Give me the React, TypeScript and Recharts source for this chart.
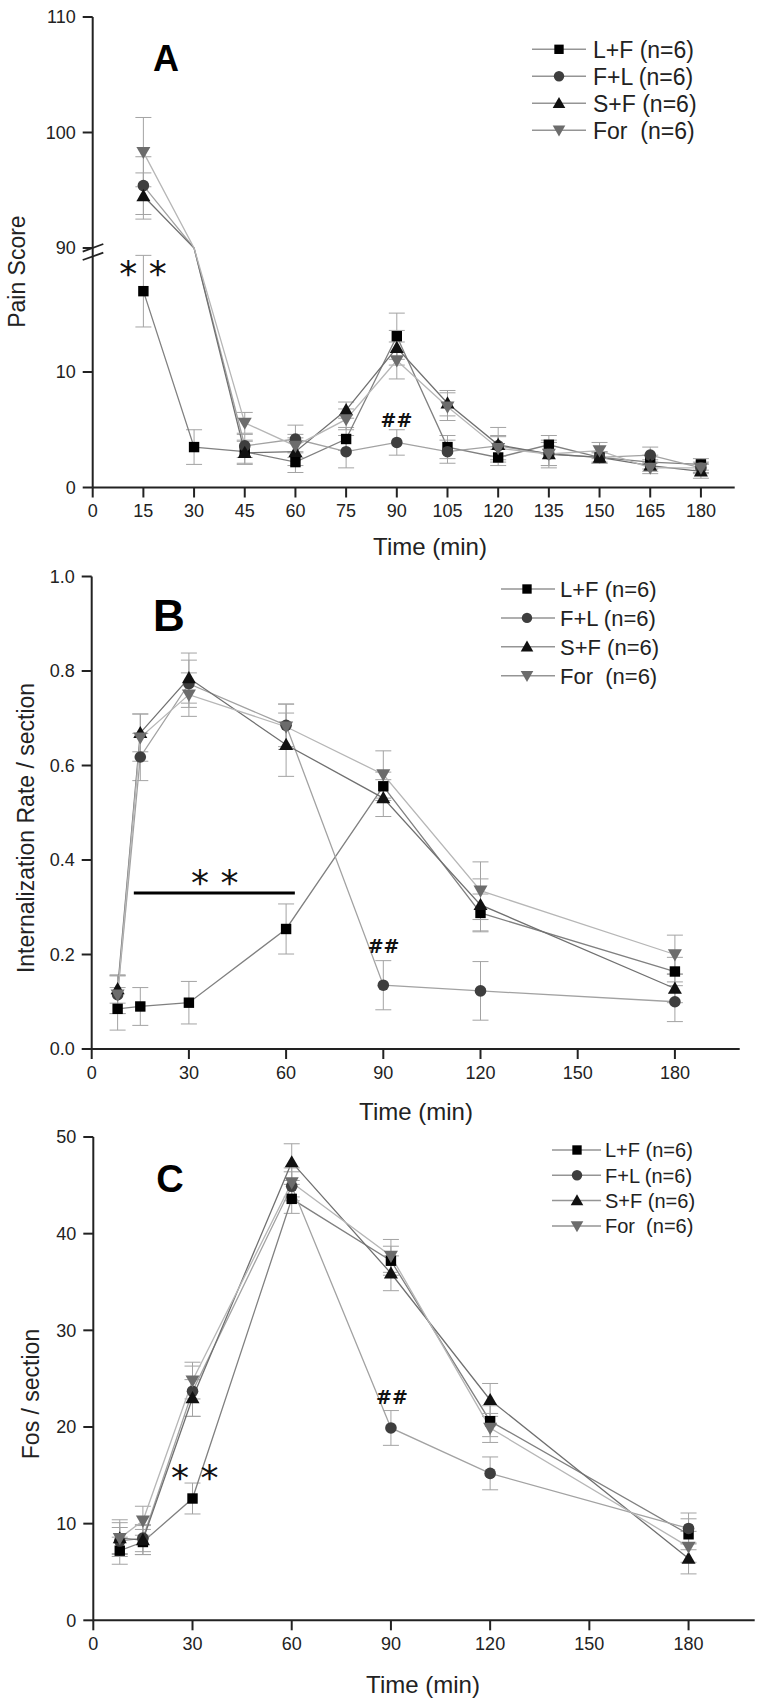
import React from "react";
import {
  Customized,
  ErrorBar,
  Legend,
  Line,
  LineChart,
  ReferenceDot,
  ReferenceLine,
  XAxis,
  YAxis,
} from "recharts";

const FONT = "'Liberation Sans', Arial, sans-serif";
const LETTER_FONT = "'Liberation Sans Narrow', 'Liberation Sans', Arial, sans-serif";
const AXIS_COLOR = "#222222";
const ERR_COLOR = "#a3a3a3";

const SERIES_NAMES = ["L+F (n=6)", "F+L (n=6)", "S+F (n=6)", "For  (n=6)"];

// ---- A: pain score (broken y axis, 20 → 90) ----
const PAIN_TIMES = [15, 30, 45, 60, 75, 90, 105, 120, 135, 150, 165, 180];
const PAIN_LF = [17.0, 3.5, 3.1, 2.2, 4.2, 13.1, 3.5, 2.6, 3.7, 2.6, 2.2, 2.0];
const PAIN_LF_ERR = [3.1, 1.5, 1.0, 0.9, 1.0, 2.0, 1.0, 0.7, 0.8, 0.5, 0.6, 0.5];
const PAIN_FL = [95.4, 60, 3.6, 4.2, 3.1, 3.9, 3.1, 3.6, 2.9, 2.6, 2.8, 1.7];
const PAIN_FL_ERR = [2.5, 0, 1.0, 1.2, 1.4, 1.1, 1.0, 0.9, 1.2, 0.5, 0.7, 0.5];
const PAIN_SF = [94.5, 60, 3.0, 3.1, 6.7, 12.1, 7.3, 3.7, 2.9, 2.6, 1.9, 1.4];
const PAIN_SF_ERR = [2.0, 0, 1.0, 1.2, 0.7, 1.5, 1.1, 1.5, 1.0, 0.4, 0.5, 0.6];
const PAIN_FOR = [98.3, 60, 5.6, 3.6, 5.9, 11.0, 7.0, 3.4, 2.9, 3.2, 1.7, 1.7];
const PAIN_FOR_ERR = [3.0, 0, 0.9, 1.0, 0.9, 1.6, 1.2, 1.0, 1.0, 0.7, 0.5, 0.4];
const PAIN_X_TICKS = [0, 15, 30, 45, 60, 75, 90, 105, 120, 135, 150, 165, 180];
const PAIN_Y_TICK_VALUES = [0, 10, 90, 100, 110];

// ---- B: internalization rate ----
const TIMES = [8, 15, 30, 60, 90, 120, 180];
const INT_LF = [0.085, 0.09, 0.098, 0.254, 0.556, 0.288, 0.164];
const INT_LF_ERR = [0.045, 0.04, 0.045, 0.053, 0.03, 0.04, 0.03];
const INT_FL = [0.115, 0.618, 0.773, 0.685, 0.135, 0.123, 0.1];
const INT_FL_ERR = [0.04, 0.05, 0.05, 0.045, 0.052, 0.062, 0.042];
const INT_SF = [0.127, 0.669, 0.785, 0.644, 0.531, 0.305, 0.128];
const INT_SF_ERR = [0.03, 0.04, 0.053, 0.067, 0.039, 0.055, 0.03];
const INT_FOR = [0.115, 0.659, 0.75, 0.682, 0.581, 0.335, 0.2];
const INT_FOR_ERR = [0.04, 0.05, 0.046, 0.048, 0.05, 0.061, 0.041];
const X_TICKS = [0, 30, 60, 90, 120, 150, 180];
const INT_Y_TICKS = [0, 0.2, 0.4, 0.6, 0.8, 1.0];

// ---- C: Fos / section ----
const FOS_LF = [7.2, 8.1, 12.6, 43.6, 37.2, 20.6, 8.9];
const FOS_LF_ERR = [1.4, 1.3, 1.6, 1.5, 1.5, 1.6, 1.6];
const FOS_FL = [8.2, 8.5, 23.7, 44.9, 19.9, 15.2, 9.5];
const FOS_FL_ERR = [1.4, 1.4, 2.6, 1.5, 1.8, 1.7, 1.6];
const FOS_SF = [8.5, 8.3, 23.0, 47.4, 35.9, 22.8, 6.4];
const FOS_SF_ERR = [1.6, 1.5, 1.9, 1.9, 1.8, 1.7, 1.6];
const FOS_FOR = [8.5, 10.3, 24.8, 45.3, 37.7, 19.9, 7.6];
const FOS_FOR_ERR = [1.9, 1.5, 1.9, 1.5, 1.7, 1.5, 1.6];
const FOS_Y_TICKS = [0, 10, 20, 30, 40, 50];

// broken axis for panel A: 0–20 kept, 90–110 placed just above it
const LOWER_TOP = 20;
const UPPER_START = 90;
const BREAK_AT = 20.74;
function painToAxis(v: number) {
  if (v <= LOWER_TOP) return v;
  if (v >= UPPER_START) return v - UPPER_START + BREAK_AT;
  return BREAK_AT;
}
const inGap = (v: number) => v > LOWER_TOP && v < UPPER_START;

type Shape = "square" | "circle" | "up" | "down";
const SERIES: { key: string; shape: Shape; fill: string; line: string }[] = [
  { key: "lf", shape: "square", fill: "#000000", line: "#808080" },
  { key: "fl", shape: "circle", fill: "#3e3e3e", line: "#a2a2a2" },
  { key: "sf", shape: "up", fill: "#111111", line: "#707070" },
  { key: "fo", shape: "down", fill: "#6c6c6c", line: "#b6b6b6" },
];

function marker(shape: Shape, cx: number, cy: number, fill: string, s = 1) {
  if (shape === "square")
    return <rect x={cx - 5.2 * s} y={cy - 5.2 * s} width={10.4 * s} height={10.4 * s} fill={fill} />;
  if (shape === "circle") return <circle cx={cx} cy={cy} r={5.8 * s} fill={fill} />;
  if (shape === "up")
    return (
      <polygon
        points={`${cx},${cy - 7 * s} ${cx - 7 * s},${cy + 5.2 * s} ${cx + 7 * s},${cy + 5.2 * s}`}
        fill={fill}
      />
    );
  return (
    <polygon
      points={`${cx},${cy + 7 * s} ${cx - 7 * s},${cy - 5.2 * s} ${cx + 7 * s},${cy - 5.2 * s}`}
      fill={fill}
    />
  );
}

function buildRows(
  times: number[],
  vals: number[][],
  errs: number[][],
  map: (v: number) => number = (v) => v,
) {
  return times.map((t, i) => {
    const row: Record<string, number> = { t };
    SERIES.forEach((s, k) => {
      row[s.key] = map(vals[k][i]);
      row[s.key + "Raw"] = vals[k][i];
      row[s.key + "Err"] = errs[k][i];
    });
    return row;
  });
}

function seriesLines(hideGap = false) {
  return SERIES.map((s, k) => (
    <Line
      key={s.key}
      dataKey={s.key}
      name={SERIES_NAMES[k]}
      stroke={s.line}
      strokeWidth={1.3}
      isAnimationActive={false}
      activeDot={false}
      dot={(p: any) => {
        const raw = p.payload?.[s.key + "Raw"];
        if (p.cx == null || p.cy == null || (hideGap && inGap(raw)))
          return <g key={`${s.key}-${p.index}`} />;
        return <g key={`${s.key}-${p.index}`}>{marker(s.shape, p.cx, p.cy, s.fill)}</g>;
      }}
    >
      <ErrorBar
        dataKey={s.key + "Err"}
        width={8}
        stroke={ERR_COLOR}
        strokeWidth={1}
        direction="y"
        isAnimationActive={false}
      />
    </Line>
  ));
}

interface LegendCfg {
  x1: number;
  x2: number;
  mx: number;
  tx: number;
  y0: number;
  gap: number;
  fontSize: number;
}

function legendContent(cfg: LegendCfg, h: number) {
  return (props: any) => {
    const payload = [...(props.payload ?? [])].sort(
      (a: any, b: any) =>
        SERIES.findIndex((s) => s.key === a.dataKey) - SERIES.findIndex((s) => s.key === b.dataKey),
    );
    return (
      <svg width={763} height={h} style={{ display: "block", overflow: "visible" }}>
        {payload.map((entry: any, i: number) => {
          const s = SERIES.find((q) => q.key === entry.dataKey) ?? SERIES[i];
          const y = cfg.y0 + i * cfg.gap;
          return (
            <g key={s.key}>
              <line x1={cfg.x1} x2={cfg.x2} y1={y} y2={y} stroke="#959595" strokeWidth={1.5} />
              {marker(s.shape, cfg.mx, y, s.fill, 0.9)}
              <text
                x={cfg.tx}
                y={y + cfg.fontSize * 0.36}
                fontSize={cfg.fontSize}
                fontFamily={FONT}
                fill="#222"
                style={{ whiteSpace: "pre" }}
              >
                {entry.value}
              </text>
            </g>
          );
        })}
      </svg>
    );
  };
}

interface TitleCfg {
  letter: string;
  lx: number;
  ly: number;
  lsize: number;
  yTitle: string;
  yx: number;
  yy: number;
  xTitle: string;
  xx: number;
  xy: number;
}

function Titles({ c }: { c: TitleCfg }) {
  return (
    <g>
      <text
        x={c.lx}
        y={c.ly}
        textAnchor="middle"
        fontFamily={LETTER_FONT}
        fontWeight="bold"
        fontSize={c.lsize}
        fill="#000"
      >
        {c.letter}
      </text>
      <text
        transform={`translate(${c.yx},${c.yy}) rotate(-90)`}
        textAnchor="middle"
        y={8}
        fontFamily={FONT}
        fontSize={23}
        fill="#222"
      >
        {c.yTitle}
      </text>
      <text x={c.xx} y={c.xy + 8.6} textAnchor="middle" fontFamily={FONT} fontSize={24} fill="#222">
        {c.xTitle}
      </text>
    </g>
  );
}

function AxisBreak() {
  return (
    <g>
      <rect x={87} y={248.9} width={648} height={7} fill="#fff" />
      <line x1={82.7} y1={251.7} x2={103.3} y2={244} stroke={AXIS_COLOR} strokeWidth={1.8} />
      <line x1={82.7} y1={260} x2={103.3} y2={252.7} stroke={AXIS_COLOR} strokeWidth={1.8} />
    </g>
  );
}

const starShape = (text: string, size: number) => (p: any) =>
  (
    <text
      x={p.cx}
      y={p.cy + size * 0.52}
      textAnchor="middle"
      fontFamily="'DejaVu Sans', sans-serif"
      fontSize={size}
      fill="#111"
      style={{ whiteSpace: "pre" }}
    >
      {text}
    </text>
  );

const hashShape = (p: any) => (
  <text
    x={p.cx}
    y={p.cy + 7}
    textAnchor="middle"
    fontFamily="'DejaVu Sans', sans-serif"
    fontWeight="bold"
    fontSize={19}
    fill="#111"
  >
    ##
  </text>
);

const axisLine = { stroke: AXIS_COLOR, strokeWidth: 2 };
const tickStyle = { fill: "#222", fontSize: 18, fontFamily: FONT };

interface PanelProps {
  top: number;
  height: number;
  margin: { top: number; right: number; bottom: number; left: number };
  rows: Record<string, number>[];
  xDomain: [number, number];
  xTicks: number[];
  yDomain: [number, number];
  yTicks: number[];
  yFmt: (v: number) => string;
  legend: LegendCfg;
  titles: TitleCfg;
  hideGap?: boolean;
  children?: React.ReactNode;
  extra?: React.ReactElement;
}

function Panel(p: PanelProps) {
  return (
    <div style={{ position: "absolute", left: 0, top: p.top }}>
      <LineChart width={763} height={p.height} data={p.rows} margin={p.margin}>
        <XAxis
          dataKey="t"
          type="number"
          domain={p.xDomain}
          ticks={p.xTicks}
          interval={0}
          height={30}
          tickSize={10}
          tickMargin={7}
          axisLine={axisLine}
          tickLine={axisLine}
          tick={tickStyle}
        />
        <YAxis
          type="number"
          domain={p.yDomain}
          ticks={p.yTicks}
          interval={0}
          width={60}
          tickSize={10}
          tickMargin={7}
          tickFormatter={p.yFmt}
          axisLine={axisLine}
          tickLine={axisLine}
          tick={tickStyle}
        />
        {seriesLines(p.hideGap)}
        {p.children}
        <Legend
          layout="vertical"
          align="center"
          verticalAlign="middle"
          wrapperStyle={{ left: 0, top: 0, width: 763, height: p.height, pointerEvents: "none" }}
          content={legendContent(p.legend, p.height)}
        />
        {p.extra ? <Customized component={p.extra} /> : null}
        <Customized component={<Titles c={p.titles} />} />
      </LineChart>
    </div>
  );
}

const painRows = buildRows(
  PAIN_TIMES,
  [PAIN_LF, PAIN_FL, PAIN_SF, PAIN_FOR],
  [PAIN_LF_ERR, PAIN_FL_ERR, PAIN_SF_ERR, PAIN_FOR_ERR],
  painToAxis,
);
const intRows = buildRows(
  TIMES,
  [INT_LF, INT_FL, INT_SF, INT_FOR],
  [INT_LF_ERR, INT_FL_ERR, INT_SF_ERR, INT_FOR_ERR],
);
const fosRows = buildRows(
  TIMES,
  [FOS_LF, FOS_FL, FOS_SF, FOS_FOR],
  [FOS_LF_ERR, FOS_FL_ERR, FOS_SF_ERR, FOS_FOR_ERR],
);

const painTicks = PAIN_Y_TICK_VALUES.map(painToAxis);
const painFmt = (v: number) => {
  const i = painTicks.findIndex((t) => Math.abs(t - v) < 1e-6);
  return i >= 0 ? String(PAIN_Y_TICK_VALUES[i]) : "";
};

export default function App() {
  return (
    <div
      style={{
        position: "absolute",
        left: 0,
        top: 0,
        width: 763,
        height: 1703,
        background: "#fff",
        overflow: "hidden",
      }}
    >
      <Panel
        top={0}
        height={560}
        margin={{ top: 17, right: 28.3, bottom: 42.5, left: 32.7 }}
        rows={painRows}
        xDomain={[0, 190]}
        xTicks={PAIN_X_TICKS}
        yDomain={[0, painToAxis(110)]}
        yTicks={painTicks}
        yFmt={painFmt}
        hideGap
        legend={{ x1: 532, x2: 586, mx: 559, tx: 593, y0: 49.3, gap: 27, fontSize: 23 }}
        titles={{
          letter: "A",
          lx: 166,
          ly: 71,
          lsize: 36,
          yTitle: "Pain Score",
          yx: 17,
          yy: 271.6,
          xTitle: "Time (min)",
          xx: 430,
          xy: 546,
        }}
        extra={<AxisBreak />}
      >
        <ReferenceDot x={14.9} y={19.1} r={0} ifOverflow="visible" shape={starShape("* *", 36)} />
        <ReferenceDot x={89.9} y={5.85} r={0} ifOverflow="visible" shape={hashShape} />
      </Panel>
      <Panel
        top={560}
        height={570}
        margin={{ top: 16.5, right: 23.3, bottom: 51, left: 31.7 }}
        rows={intRows}
        xDomain={[0, 200]}
        xTicks={X_TICKS}
        yDomain={[0, 1]}
        yTicks={INT_Y_TICKS}
        yFmt={(v) => v.toFixed(1)}
        legend={{ x1: 501, x2: 555, mx: 527, tx: 560, y0: 29, gap: 28.9, fontSize: 22 }}
        titles={{
          letter: "B",
          lx: 169,
          ly: 71,
          lsize: 44,
          yTitle: "Internalization Rate / section",
          yx: 26,
          yy: 268,
          xTitle: "Time (min)",
          xx: 416,
          xy: 551,
        }}
      >
        <ReferenceLine
          segment={[
            { x: 13, y: 0.33 },
            { x: 62.7, y: 0.33 },
          ]}
          stroke="#000"
          strokeWidth={3}
        />
        <ReferenceDot x={38} y={0.366} r={0} ifOverflow="visible" shape={starShape("* *", 36)} />
        <ReferenceDot x={90.1} y={0.218} r={0} ifOverflow="visible" shape={hashShape} />
      </Panel>
      <Panel
        top={1130}
        height={573}
        margin={{ top: 7, right: 8.3, bottom: 52.7, left: 33.3 }}
        rows={fosRows}
        xDomain={[0, 200]}
        xTicks={X_TICKS}
        yDomain={[0, 50]}
        yTicks={FOS_Y_TICKS}
        yFmt={(v) => String(v)}
        legend={{ x1: 552, x2: 601, mx: 577, tx: 605, y0: 20, gap: 25.3, fontSize: 20 }}
        titles={{
          letter: "C",
          lx: 170,
          ly: 62,
          lsize: 38,
          yTitle: "Fos / section",
          yx: 30.5,
          yy: 264,
          xTitle: "Time (min)",
          xx: 423,
          xy: 554,
        }}
      >
        <ReferenceDot x={30.7} y={15.4} r={0} ifOverflow="visible" shape={starShape("* *", 36)} />
        <ReferenceDot x={90.3} y={23.1} r={0} ifOverflow="visible" shape={hashShape} />
      </Panel>
    </div>
  );
}
